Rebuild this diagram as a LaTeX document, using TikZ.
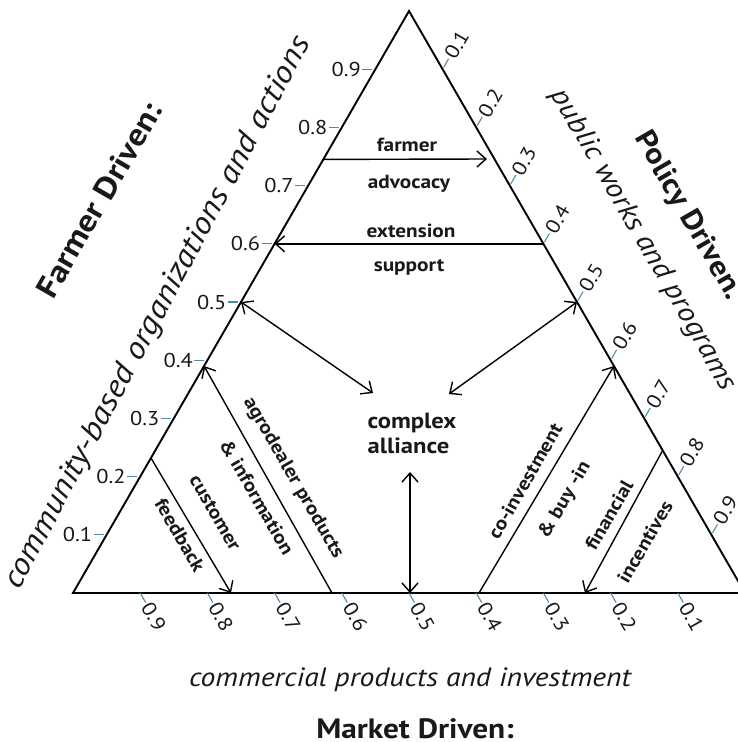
\documentclass[tikz,border=0pt]{standalone}
\usepackage{fontspec}
\setmainfont{PT Sans}[FakeStretch=1.12]
\usepackage{tikz}
\usetikzlibrary{arrows.meta}
\usetikzlibrary{calc}
\definecolor{tickblue}{RGB}{80,140,165}
\definecolor{ink}{RGB}{25,25,25}
\tikzstyle{side} = [draw, line width=1.9pt, line join=miter]
\tikzstyle{line} = [draw, line width=1.4pt, -{Straight Barb[length=9pt,width=16pt]}]
\tikzstyle{dline} = [draw, line width=1.4pt, {Straight Barb[length=9pt,width=16pt]}-{Straight Barb[length=9pt,width=16pt]}]
\tikzstyle{flow} = [text=ink, inner sep=0pt, font=\fontsize{19}{23}\selectfont\bfseries]
\tikzstyle{tick} = [draw, tickblue, line width=1.1pt]
\tikzstyle{ticklabel} = [text=ink, inner sep=1pt, font=\fontsize{20}{22}\selectfont]
\tikzstyle{driver} = [text=ink, inner sep=0pt, font=\fontsize{29}{33}\selectfont\bfseries]
\tikzstyle{means} = [text=ink, inner sep=0pt, font=\fontsize{28}{30}\selectfont\itshape]

\begin{document}
\begin{tikzpicture}[x=1pt, y=-1pt]
    \useasboundingbox (0,0) rectangle (738,742);
    \clip (0,0) rectangle (738,742);
    % corners of the triangle
    \coordinate (L) at (73,593);
    \coordinate (R) at (745,593);
    \coordinate (A) at (409,11);
    \path[side] (L) -- (A) -- (R) -- cycle;
    % scales
    \foreach \k in {1,...,9}{
        \coordinate (l\k) at ($(L)!0.\k!(A)$);
        \coordinate (r\k) at ($(A)!0.\k!(R)$);
        \coordinate (b\k) at ($(R)!0.\k!(L)$);
        \draw[tick] ($(l\k)+(-3,0)$) -- ($(l\k)+(-13,0)$) node[ticklabel, anchor=east] (lt\k) {0.\k};
        \draw[tick] ($(r\k)+(1,-1.7)$) -- ($(r\k)+(6,-10.4)$) node[ticklabel, anchor=west, rotate=60] (rt\k) {0.\k};
        \draw[tick] (b\k) -- ($(b\k)+(5.5,9.5)$) node[ticklabel, anchor=west, rotate=-60] (bt\k) {0.\k};
    }
    % Draw edges
    \coordinate (fa1) at ($(L)!0.745!(A)$);
    \coordinate (fa2) at (487,159);
    \path[line] (fa1) -- (fa2);
    \coordinate (ex1) at ($(A)!0.4!(R)$);
    \coordinate (ex2) at ($(L)!0.6!(A)$);
    \path[line] (ex1) -- (ex2);
    \coordinate (al1) at ($(L)!0.5!(A)$);
    \coordinate (al2) at (373,393);
    \path[dline] (al1) -- (al2);
    \coordinate (ar1) at ($(A)!0.5!(R)$);
    \coordinate (ar2) at (449,394);
    \path[dline] (ar1) -- (ar2);
    \coordinate (av1) at (410,472);
    \coordinate (av2) at (410,593);
    \path[dline] (av1) -- (av2);
    \coordinate (ag1) at ($(L)!0.39!(A)$);
    \coordinate (ag2) at (332,593);
    \path[line] (ag2) -- (ag1);
    \coordinate (cu1) at ($(L)!0.232!(A)$);
    \coordinate (cu2) at (231,593);
    \path[line] (cu1) -- (cu2);
    \coordinate (co1) at (479,593);
    \coordinate (co2) at ($(A)!0.61!(R)$);
    \path[line] (co1) -- (co2);
    \coordinate (fi1) at ($(A)!0.755!(R)$);
    \coordinate (fi2) at (585,593);
    \path[line] (fi1) -- (fi2);
    % labels of the flows
    \node[flow] (farmer) at (407,145) {farmer};
    \node[flow] (advocacy) at (409,184) {advocacy};
    \node[flow] (extension) at (411,231) {extension};
    \node[flow] (support) at (409,267) {support};
    \node[flow, align=left, font=\fontsize{22}{25}\selectfont\bfseries] (complex) at (412,433) {complex\\alliance};
    \node[flow, rotate=-60] (agro) at (293,478) {agrodealer products};
    \node[flow, rotate=-60] (info) at (257,497) {\& information};
    \node[flow, rotate=-60] (customer) at (215,513) {customer};
    \node[flow, rotate=-60] (feedback) at (180,535) {feedback};
    \node[flow, rotate=60] (coinvest) at (525,481) {co-investment};
    \node[flow, rotate=60] (buyin) at (565,500) {\& buy -in};
    \node[flow, rotate=60] (financial) at (609,515) {financial};
    \node[flow, rotate=60] (incentives) at (645,542) {incentives};
    % drivers
    \node[driver, rotate=60, font=\fontsize{31}{33}\selectfont\bfseries] (farmerdriven) at (99,200) {Farmer Driven:};
    \node[means, rotate=62, font=\fontsize{31}{34}\selectfont\itshape] (community) at (158,313) {community-based organizations and actions};
    \node[driver, rotate=-60] (policydriven) at (688,216) {Policy Driven.};
    \node[means, rotate=-60] (public) at (643,240) {public works and programs};
    \node[means, font=\fontsize{26.5}{30}\selectfont\itshape] (commercial) at (410,680) {commercial products and investment};
    \node[driver, font=\fontsize{28}{30}\selectfont\bfseries] (marketdriven) at (415,729) {Market Driven:};
\end{tikzpicture}
\end{document}
